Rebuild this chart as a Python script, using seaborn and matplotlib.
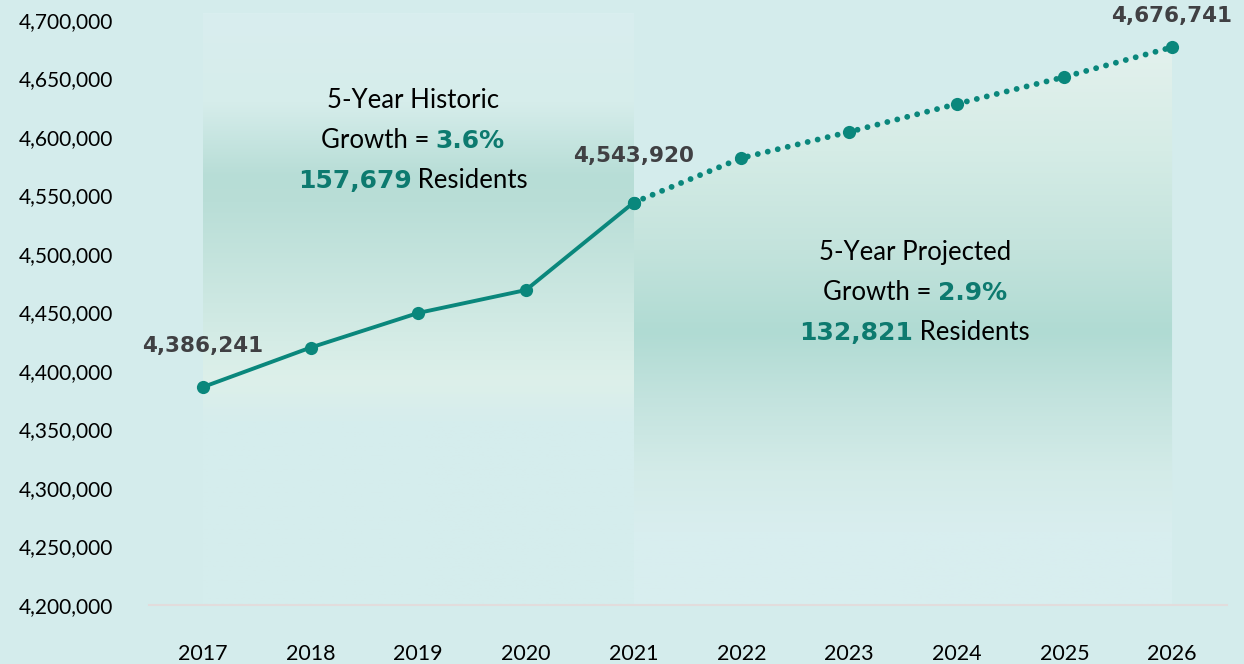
import numpy as np
import pandas as pd
import matplotlib
matplotlib.use('Agg')
import matplotlib.pyplot as plt
import seaborn as sns
from matplotlib.colors import LinearSegmentedColormap
from matplotlib.patches import Polygon
from matplotlib.ticker import FuncFormatter
from matplotlib.offsetbox import TextArea, HPacker, VPacker, AnnotationBbox

# 数据
years_hist = [2017, 2018, 2019, 2020, 2021]
pop_hist = [4386241, 4420000, 4449600, 4469200, 4543920]
years_proj = [2021, 2022, 2023, 2024, 2025, 2026]
pop_proj = [4543920, 4582000, 4604300, 4628200, 4651300, 4676741]
label_years = [2017, 2021, 2026]
label_values = [4386241, 4543920, 4676741]
y_ticks = list(range(4200000, 4700001, 50000))
x_ticks = list(range(2017, 2027))

hist_growth = "3.6%"
hist_residents = "157,679"
proj_growth = "2.9%"
proj_residents = "132,821"

BG = "#d4ecec"
TEAL = "#0a877c"
TEAL_TXT = "#0d7a6f"
GREY_TXT = "#404043"
BOLD_FONT = ["DejaVu Sans"]

sns.set_theme(style="white")
plt.rcParams['font.family'] = ['Lato', 'DejaVu Sans']

fig = plt.figure(figsize=(12.44, 6.64), dpi=100, facecolor=BG)
ax = fig.add_axes([0.1198, 0.0889, 0.8665, 0.8986])
ax.set_facecolor(BG)

# 历史区间渐变背景
hist_cmap = LinearSegmentedColormap.from_list("hist", [
    (0.0, "#d5eded"), (0.31, "#d6eded"), (0.38, "#ddf0ea"), (0.51, "#cde8e2"),
    (0.68, "#b9ded7"), (0.725, "#b7ddd6"), (0.85, "#d6edeb"), (1.0, "#d9eeef")])
grad = np.linspace(0, 1, 256).reshape(-1, 1)
ax.imshow(grad, cmap=hist_cmap, origin="lower", aspect="auto",
          extent=[years_hist[0], years_hist[-1], 4200000, 4706000], zorder=0.5)

# 预测区间渐变填充（线下区域）
proj_cmap = LinearSegmentedColormap.from_list("proj", [
    (0.0, "#d8eeef"), (0.13, "#d9eeef"), (0.24, "#d3ebe8"), (0.37, "#c3e3de"),
    (0.49, "#b0dbd3"), (0.636, "#c3e3dc"), (0.815, "#d5ece6"), (1.0, "#e3f1ed")])
im = ax.imshow(grad, cmap=proj_cmap, origin="lower", aspect="auto",
               extent=[years_proj[0], years_proj[-1], 4200000, max(pop_proj)], zorder=0.6)
poly_xy = list(zip(years_proj, pop_proj)) + [(years_proj[-1], 4200000), (years_proj[0], 4200000)]
poly = Polygon(poly_xy, closed=True, facecolor="none", edgecolor="none")
ax.add_patch(poly)
im.set_clip_path(poly)

# 折线
df_hist = pd.DataFrame({"year": years_hist, "pop": pop_hist})
df_proj = pd.DataFrame({"year": years_proj, "pop": pop_proj})
sns.lineplot(data=df_proj, x="year", y="pop", ax=ax, color=TEAL, linewidth=4.2,
             linestyle=(0, (0.01, 1.75)), dash_capstyle="round", zorder=3)
sns.lineplot(data=df_proj, x="year", y="pop", ax=ax, color=TEAL, linewidth=0,
             marker="o", markersize=9.5, markeredgewidth=0, zorder=4)
sns.lineplot(data=df_hist, x="year", y="pop", ax=ax, color=TEAL, linewidth=2.8,
             marker="o", markersize=9.5, markeredgewidth=0, zorder=4)

# 数据标签
for yr, v, dy in zip(label_years, label_values, [41, 47, 31]):
    ax.annotate(f"{v:,}", (yr, v), xytext=(0, dy * 0.72), textcoords="offset points",
                ha="center", va="center", fontsize=15.5, fontweight="bold",
                family=BOLD_FONT, color=GREY_TXT, zorder=5)


def growth_box(x, y, title, growth, residents):
    fs = 18.5
    plain = dict(fontsize=fs, color="black")
    bold = dict(fontsize=18, color=TEAL_TXT, fontweight="bold", family=BOLD_FONT)
    r1 = TextArea(title, textprops=plain)
    r2 = HPacker(children=[TextArea("Growth = ", textprops=plain),
                           TextArea(growth, textprops=bold)],
                 align="baseline", pad=0, sep=0)
    r3 = HPacker(children=[TextArea(residents, textprops=bold),
                           TextArea(" Residents", textprops=plain)],
                 align="baseline", pad=0, sep=0)
    box = VPacker(children=[r1, r2, r3], align="center", pad=0, sep=11)
    ab = AnnotationBbox(box, (x, y), xycoords="data", frameon=False, box_alignment=(0.5, 0.5),
                        zorder=5)
    ax.add_artist(ab)


growth_box(2018.95, 4597000, "5-Year Historic", hist_growth, hist_residents)
growth_box(2023.61, 4467000, "5-Year Projected", proj_growth, proj_residents)

# 坐标轴
ax.set_xlim(2016.5, 2026.51)
ax.set_ylim(4200000, 4710000)
ax.set_yticks(y_ticks)
ax.yaxis.set_major_formatter(FuncFormatter(lambda v, p: f"{int(v):,}"))
ax.set_xticks(x_ticks)
ax.tick_params(axis="y", length=0, labelsize=15, colors="black", pad=26)
ax.tick_params(axis="x", length=0, labelsize=15.5, colors="black", pad=28)
for s in ["top", "right", "left"]:
    ax.spines[s].set_visible(False)
ax.spines["bottom"].set_color("#e2dcdc")
ax.spines["bottom"].set_linewidth(1.5)
ax.set_xlabel("")
ax.set_ylabel("")
ax.grid(False)

fig.savefig("out.png", dpi=100, facecolor=BG)
